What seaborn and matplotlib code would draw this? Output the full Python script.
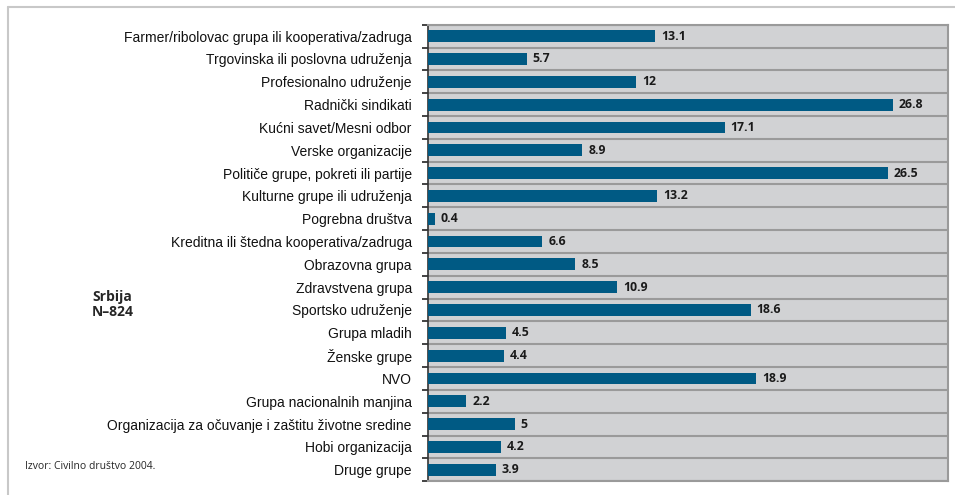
import numpy as np
import pandas as pd
import seaborn as sns
import matplotlib.pyplot as plt
from matplotlib.lines import Line2D

# data
groups = [
    "Farmer/ribolovac grupa ili kooperativa/zadruga",
    "Trgovinska ili poslovna udruženja",
    "Profesionalno udruženje",
    "Radnički sindikati",
    "Kućni savet/Mesni odbor",
    "Verske organizacije",
    "Političe grupe, pokreti ili partije",
    "Kulturne grupe ili udruženja",
    "Pogrebna društva",
    "Kreditna ili štedna kooperativa/zadruga",
    "Obrazovna grupa",
    "Zdravstvena grupa",
    "Sportsko udruženje",
    "Grupa mladih",
    "Ženske grupe",
    "NVO",
    "Grupa nacionalnih manjina",
    "Organizacija za očuvanje i zaštitu životne sredine",
    "Hobi organizacija",
    "Druge grupe",
]
values = [13.1, 5.7, 12, 26.8, 17.1, 8.9, 26.5, 13.2, 0.4, 6.6,
          8.5, 10.9, 18.6, 4.5, 4.4, 18.9, 2.2, 5, 4.2, 3.9]
value_labels = ["13.1", "5.7", "12", "26.8", "17.1", "8.9", "26.5", "13.2", "0.4", "6.6",
                "8.5", "10.9", "18.6", "4.5", "4.4", "18.9", "2.2", "5", "4.2", "3.9"]

df = pd.DataFrame({"group": groups, "value": values})

sns.set_style("white")
plt.rcParams["font.family"] = ["Liberation Sans", "DejaVu Sans"]

fig = plt.figure(figsize=(9.55, 4.95), dpi=100)
ax = fig.add_axes([0.448, 0.028, 0.545, 0.922])

sns.barplot(data=df, x="value", y="group", orient="h", color="#005a84",
            width=0.52, saturation=1, linewidth=0, ax=ax, zorder=3)

ax.set_facecolor("#d1d2d4")
ax.set_xlim(0, 30)
ax.set_ylim(len(groups) - 0.5, -0.5)
ax.set_xlabel("")
ax.set_ylabel("")
ax.set_xticks([])

# gridlines between categories + tick marks on the left
bounds = np.arange(-0.5, len(groups) + 0.5, 1)
ax.set_yticks(bounds, minor=True)
ax.tick_params(axis="y", which="major", left=False, length=0, labelsize=10, pad=11.5,
               labelcolor="#111111")
ax.tick_params(axis="y", which="minor", left=True, length=4.5, width=1.2, color="#222222",
               direction="out")
ax.grid(axis="y", which="minor", color="#9a9a9a", linewidth=1.5, zorder=1)

for s in ["top", "right", "bottom"]:
    ax.spines[s].set_color("#9a9a9a")
    ax.spines[s].set_linewidth(1.5)
ax.spines["left"].set_color("#333333")
ax.spines["left"].set_linewidth(1.2)

# value labels
for i, (v, lab) in enumerate(zip(values, value_labels)):
    ax.text(v + 0.35, i, lab, va="center", ha="left", fontsize=8.8,
            fontweight="bold", color="#1a1a1a", family=["Open Sans", "DejaVu Sans"])

fig.text(0.118, 0.385, "Srbija\nN\u2013824", ha="center", va="center", fontsize=10,
         fontweight="bold", linespacing=1.15, multialignment="center",
         family=["Open Sans", "DejaVu Sans"])
fig.text(0.026, 0.057, "Izvor: Civilno društvo 2004.", ha="left", va="center",
         fontsize=7.5, family=["Open Sans", "DejaVu Sans"])

# light frame around the figure (top and left edges)
fig.add_artist(Line2D([8 / 955, 1], [1 - 7 / 495, 1 - 7 / 495], transform=fig.transFigure,
                      color="#c8c8c8", linewidth=1.5))
fig.add_artist(Line2D([8 / 955, 8 / 955], [0, 1 - 7 / 495], transform=fig.transFigure,
                      color="#c8c8c8", linewidth=1.5))

fig.savefig("out.png", dpi=100)
